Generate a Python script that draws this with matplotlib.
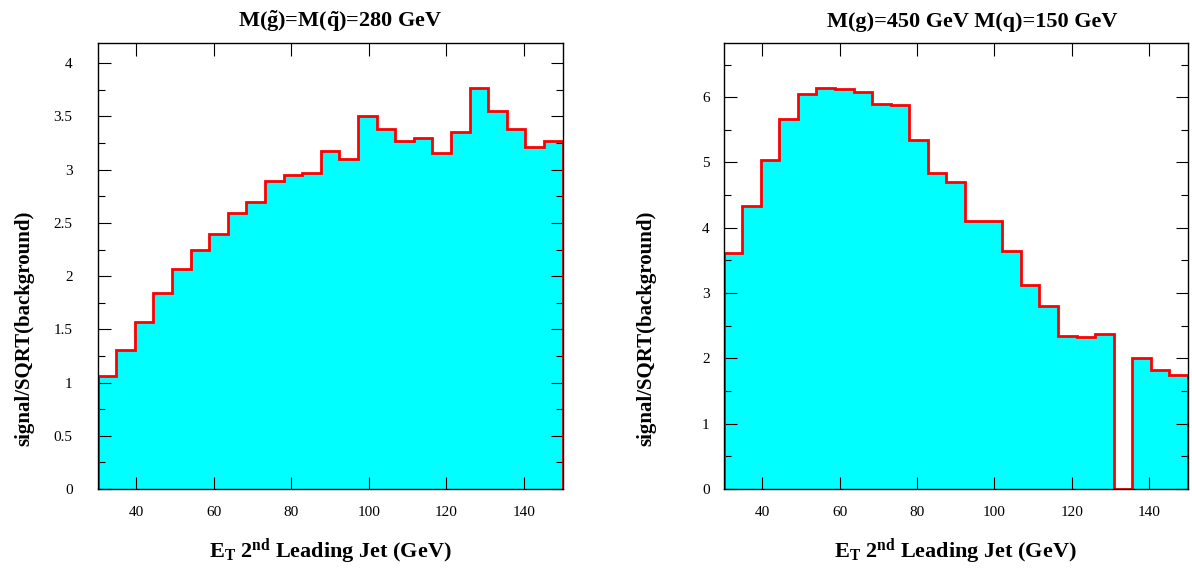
import matplotlib
matplotlib.use("Agg")
import matplotlib.pyplot as plt
from matplotlib.ticker import MultipleLocator

plt.rcParams['font.family'] = ['Liberation Serif', 'DejaVu Serif']
plt.rcParams['mathtext.fontset'] = 'custom'
plt.rcParams['mathtext.rm'] = 'Liberation Serif'
plt.rcParams['mathtext.bf'] = 'Liberation Serif:bold'
plt.rcParams['mathtext.it'] = 'Liberation Serif:italic'

# bin edges of the E_T histogram (GeV)
bin_edges = [30, 34.8, 39.6, 44.4, 49.2, 54, 58.8, 63.6, 68.4, 73.2, 78, 82.8,
             87.6, 92.4, 97.2, 102, 106.8, 111.6, 116.4, 121.2, 126, 130.8,
             135.6, 140.4, 145.2, 150]

# signal/sqrt(background), left: M(gluino)=M(squark)=280 GeV
sig_left = [1.06, 1.31, 1.57, 1.84, 2.07, 2.25, 2.40, 2.59, 2.70, 2.89, 2.95,
            2.97, 3.18, 3.10, 3.50, 3.38, 3.27, 3.30, 3.16, 3.35, 3.77, 3.55,
            3.38, 3.21, 3.27]

# right: M(g)=450 GeV M(q)=150 GeV
sig_right = [3.61, 4.34, 5.04, 5.66, 6.05, 6.14, 6.13, 6.08, 5.90, 5.88, 5.35,
             4.84, 4.70, 4.11, 4.11, 3.65, 3.13, 2.81, 2.35, 2.33, 2.37, 0.0,
             2.00, 1.82, 1.75]

titles = [r'M($\mathbf{\tilde{g}}$)=M($\mathbf{\tilde{q}}$)=280 GeV',
          'M(g)=450 GeV M(q)=150 GeV']
xlabel = r'E$_\mathbf{T}$ 2$^\mathbf{nd}$ Leading Jet (GeV)'
ylabel = 'signal/SQRT(background)'

fig = plt.figure(figsize=(11.92, 5.69), dpi=100)
W, H = 1192.0, 569.0
ax1 = fig.add_axes([97.5 / W, 80 / H, 465.2 / W, 446 / H])
ax2 = fig.add_axes([723.5 / W, 80 / H, 464.5 / W, 446 / H])

setups = [
    (ax1, sig_left, titles[0], 4.19, 0.5, 0.25, 18, 0.521, -0.158),
    (ax2, sig_right, titles[1], 6.83, 1.0, 0.5, 10, 0.535, -0.165),
]

for ax, vals, title, ymax, major, minor, ypad, tx, lx in setups:
    ax.stairs(vals, bin_edges, fill=True, color='#00ffff', zorder=1)
    ax.stairs(vals, bin_edges, baseline=0, color='#ff0000', linewidth=2.0,
              zorder=2)
    ax.set_xlim(30, 150)
    ax.set_ylim(0, ymax)
    ax.xaxis.set_major_locator(MultipleLocator(20))
    ax.yaxis.set_major_locator(MultipleLocator(major))
    ax.yaxis.set_minor_locator(MultipleLocator(minor))
    ax.yaxis.set_major_formatter(plt.FuncFormatter(lambda v, p: '%g' % v))
    ax.tick_params(which='both', direction='in', top=True, right=True,
                   width=0.8, labelsize=11)
    ax.tick_params(which='major', length=9)
    ax.tick_params(which='minor', length=5)
    ax.tick_params(axis='y', which='major', pad=ypad)
    ax.tick_params(axis='x', which='major', pad=12)
    for s in ax.spines.values():
        s.set_linewidth(1.0)

    ax.text(tx, 1.0 + 16 / 446, title, transform=ax.transAxes,
            ha='center', va='baseline', fontsize=16, fontweight='bold')
    ax.text(0.5, -69 / 446, xlabel, transform=ax.transAxes,
            ha='center', va='baseline', fontsize=16, fontweight='bold')
    ax.text(lx, 0.36, ylabel, transform=ax.transAxes, rotation=90,
            ha='center', va='center', fontsize=15, fontweight='bold')

fig.savefig('out.png', dpi=100)
